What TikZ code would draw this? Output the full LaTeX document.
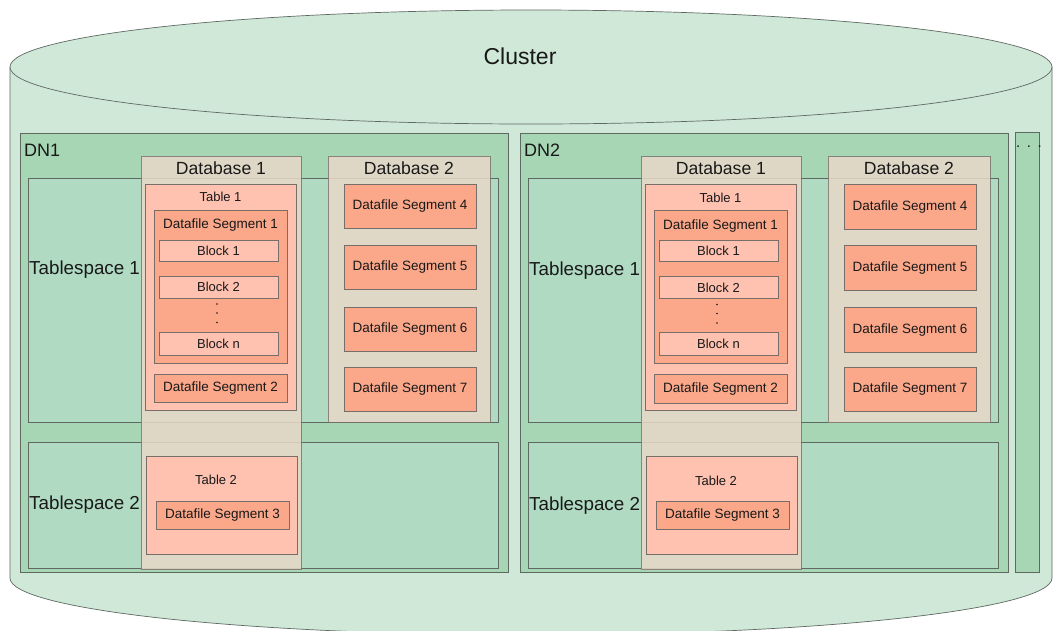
\documentclass[tikz,border=0pt]{standalone}
\usepackage{fontspec}
\setmainfont{Liberation Sans}
\usetikzlibrary{fit}
\definecolor{clusterfill}{RGB}{207,232,216}
\definecolor{dnfill}{RGB}{167,214,180}
\definecolor{tsfill}{RGB}{176,219,194}
\definecolor{dbfill}{RGB}{232,216,200}
\definecolor{tblfill}{RGB}{255,193,176}
\definecolor{segfill}{RGB}{251,167,137}
\definecolor{linec}{RGB}{95,105,98}
\definecolor{boxline}{RGB}{120,110,105}
\definecolor{txt}{RGB}{25,25,25}
\tikzset{
  base/.style={draw=linec, line width=0.7pt, inner sep=0pt, outer sep=0pt},
  clusterbox/.style={draw=linec, line width=0.7pt, fill=clusterfill},
  dnbox/.style={base, fill=dnfill},
  tsbox/.style={base, fill=tsfill},
  dbbox/.style={base, draw=boxline, fill=dbfill, fill opacity=0.85, draw opacity=0.8},
  tblbox/.style={base, draw=boxline, fill=tblfill},
  segbox/.style={base, draw=boxline, fill=segfill},
  blkbox/.style={base, draw=boxline, fill=tblfill},
  smalltxt/.style={inner sep=0pt, text=txt, font=\fontsize{13}{15}\selectfont},
  midtxt/.style={inner sep=0pt, text=txt, font=\fontsize{13.5}{16}\selectfont},
  bigtxt/.style={inner sep=0pt, text=txt, font=\fontsize{18.8}{22}\selectfont},
  dntxt/.style={inner sep=0pt, text=txt, font=\fontsize{18}{21}\selectfont},
  dbtxt/.style={inner sep=0pt, text=txt, font=\fontsize{17.6}{21}\selectfont},
}
\newcommand{\dnpart}[2]{%
  \node[dnbox, fit={(20,133) (508,572)}] (#1) {};
  \node[dntxt, anchor=west] (#1-lab) at (24,150) {#2};
  \node[tsbox, fit={(28,178) (498,422)}] (#1-ts1) {};
  \node[bigtxt, anchor=west] (#1-ts1lab) at (29,270) {Tablespace 1};
  \node[tsbox, fit={(28,442) (498,568)}] (#1-ts2) {};
  \node[bigtxt, anchor=west] (#1-ts2lab) at (29,505) {Tablespace 2};
  \node[dbbox, fit={(141,156) (301,569)}] (#1-db1) {};
  \node[dbtxt] (#1-db1lab) at (221,168) {Database 1};
  \node[dbbox, fit={(328,156) (490,422)}] (#1-db2) {};
  \node[dbtxt] (#1-db2lab) at (409,168) {Database 2};
  \node[tblbox, fit={(145,184) (296,410)}] (#1-t1) {};
  \node[smalltxt] (#1-t1lab) at (220.5,197) {Table 1};
  \node[segbox, fit={(154,210) (287,363)}] (#1-s1) {};
  \node[midtxt] (#1-s1lab) at (220.5,225.5) {Datafile Segment 1};
  \node[blkbox, fit={(159,240) (278,261)}] (#1-b1) {};
  \node[smalltxt] (#1-b1lab) at (#1-b1.center) {Block 1};
  \node[blkbox, fit={(159,276) (278,298)}] (#1-b2) {};
  \node[smalltxt] (#1-b2lab) at (#1-b2.center) {Block 2};
  \fill[txt] (217,304) circle[radius=0.9] (217,313) circle[radius=0.9] (217,322.5) circle[radius=0.9];
  \node[blkbox, fit={(159,332) (278,355)}] (#1-bn) {};
  \node[smalltxt] (#1-bnlab) at (#1-bn.center) {Block n};
  \node[segbox, fit={(154,374) (287,402.5)}] (#1-s2) {};
  \node[midtxt] (#1-s2lab) at (#1-s2.center) {Datafile Segment 2};
  \node[segbox, fit={(344,184) (476,228.5)}] (#1-s4) {};
  \node[midtxt] (#1-s4lab) at (#1-s4.center) {Datafile Segment 4};
  \node[segbox, fit={(344,245) (476,289.5)}] (#1-s5) {};
  \node[midtxt] (#1-s5lab) at (#1-s5.center) {Datafile Segment 5};
  \node[segbox, fit={(344,307) (476,351.5)}] (#1-s6) {};
  \node[midtxt] (#1-s6lab) at (#1-s6.center) {Datafile Segment 6};
  \node[segbox, fit={(344,367) (476,411)}] (#1-s7) {};
  \node[midtxt] (#1-s7lab) at (#1-s7.center) {Datafile Segment 7};
  \node[tblbox, fit={(146,456) (297,554)}] (#1-t2) {};
  \node[smalltxt] (#1-t2lab) at (216,480) {Table 2};
  \node[segbox, fit={(156,501) (289,529)}] (#1-s3) {};
  \node[midtxt] (#1-s3lab) at (#1-s3.center) {Datafile Segment 3};
}
\begin{document}
\begin{tikzpicture}[x=1pt,y=-1pt]
\useasboundingbox (0,0) rectangle (1053,630);
\clip (0,0) rectangle (1053,630);
\fill[white] (0,0) rectangle (1053,630);
% cylinder
\filldraw[clusterbox] (10,67) -- (10,578) arc[start angle=180, end angle=0, x radius=521, y radius=57] -- (1052,67);
\filldraw[clusterbox] (531,67) ellipse[x radius=521, y radius=57];
\node[inner sep=0pt, text=txt, font=\fontsize{23}{27}\selectfont] (cluster) at (520,56) {Cluster};
% DN1
\dnpart{dna}{DN1}
% DN2
\begin{scope}[shift={(500,0.5)}]
\dnpart{dnb}{DN2}
\end{scope}
% more nodes
\node[dnbox, fit={(1015,132) (1039,572)}] (more) {};
\node[inner sep=0pt, text=txt, font=\fontsize{15}{17}\selectfont, anchor=base west] (morelab) at (1016,147) {.\hspace{6.5pt}.\hspace{6.5pt}.};
\end{tikzpicture}
\end{document}
